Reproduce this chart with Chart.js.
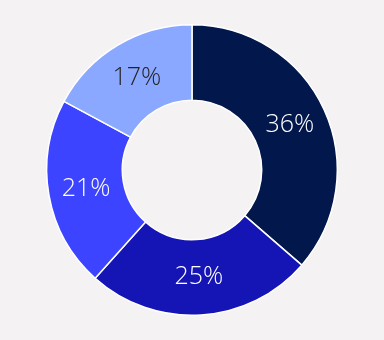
<!DOCTYPE html>
<html>
<head>
<meta charset="utf-8">
<script src="https://cdn.jsdelivr.net/npm/chart.js@4/dist/chart.umd.min.js"></script>
<style>
html,body{margin:0;padding:0;background:#f5f2f3;}
#wrap{width:384px;height:340px;}
</style>
</head>
<body>
<div id="wrap"><canvas id="c" width="384" height="340"></canvas></div>
<script>
const categories = ["A", "B", "C", "D"];
const values = [36, 25, 21, 17];
const labels = ["36%", "25%", "21%", "17%"];
const colors = ["#02174b", "#1515b5", "#3c44ff", "#8aa8ff"];
const labelColors = ["#ffffff", "#ffffff", "#ffffff", "#222222"];

const labelPlugin = {
  id: 'sliceLabels',
  afterDatasetsDraw(chart) {
    const ctx = chart.ctx;
    const meta = chart.getDatasetMeta(0);
    ctx.save();
    ctx.font = '300 25px "Open Sans", "Noto Sans", sans-serif';
    ctx.textAlign = 'center';
    ctx.textBaseline = 'middle';
    meta.data.forEach((arc, i) => {
      const p = arc.tooltipPosition();
      ctx.fillStyle = labelColors[i];
      ctx.fillText(labels[i], p.x, p.y);
    });
    ctx.restore();
  }
};

new Chart(document.getElementById('c'), {
  type: 'doughnut',
  data: {
    labels: categories,
    datasets: [{
      data: values,
      backgroundColor: colors,
      borderColor: '#ffffff',
      borderWidth: 1.5,
      hoverOffset: 0
    }]
  },
  options: {
    responsive: false,
    animation: false,
    cutout: '48%',
    layout: {padding: {top: 24, bottom: 24, left: 0, right: 0}},
    plugins: {legend: {display: false}, tooltip: {enabled: false}}
  },
  plugins: [labelPlugin]
});
</script>
</body>
</html>
